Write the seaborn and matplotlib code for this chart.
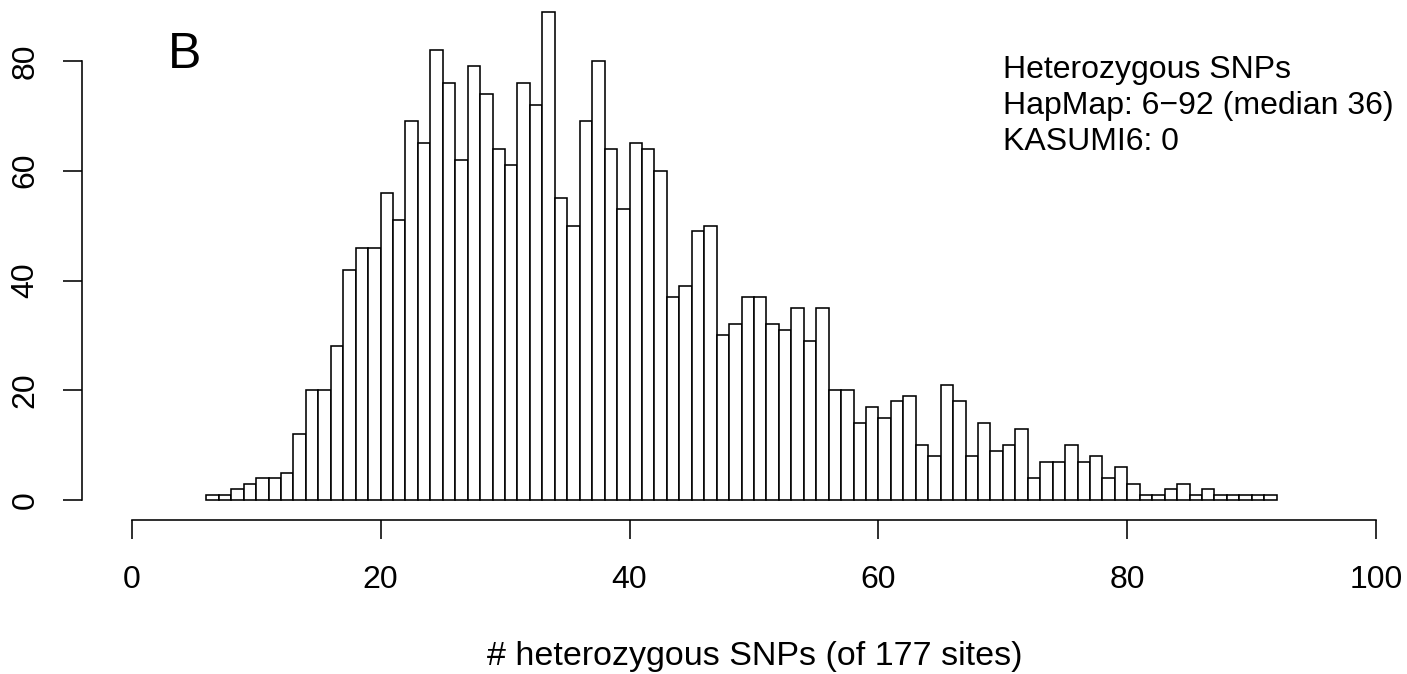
import numpy as np
import pandas as pd
import matplotlib
matplotlib.use("Agg")
import matplotlib.pyplot as plt
import seaborn as sns

# Number of heterozygous SNPs (bin start values, bins of width 1)
het_snps = list(range(6, 92))
counts = [1, 1, 2, 3, 4, 4, 5, 12, 20, 20,
          28, 42, 46, 46, 56, 51, 69, 65, 82, 76,
          62, 79, 74, 64, 61, 76, 72, 89, 55, 50,
          69, 80, 64, 53, 65, 64, 60, 37, 39, 49,
          50, 30, 32, 37, 37, 32, 31, 35, 29, 35,
          20, 20, 14, 17, 15, 18, 19, 10, 8, 21,
          18, 8, 14, 9, 10, 13, 4, 7, 7, 10,
          7, 8, 4, 6, 3, 1, 1, 2, 3, 1,
          2, 1, 1, 1, 1, 1]
x_ticks = [0, 20, 40, 60, 80, 100]
y_ticks = [0, 20, 40, 60, 80]
panel_label = "B"
info_lines = ["Heterozygous SNPs", "HapMap: 6\u221292 (median 36)", "KASUMI6: 0"]
x_label = "# heterozygous SNPs (of 177 sites)"

sns.set_style("white")
plt.rcParams['font.family'] = ['Liberation Sans', 'DejaVu Sans']
plt.rcParams['text.color'] = 'black'

FS = 23
W, H = 1407, 674
fig = plt.figure(figsize=(W / 100, H / 100), dpi=100)

ax_left, ax_bottom_px = 81.7, 519.5
ax = fig.add_axes([ax_left / W, (H - ax_bottom_px) / H, (W - ax_left) / W, ax_bottom_px / H])

df = pd.DataFrame({"snps": [v + 0.5 for v in het_snps], "count": counts})
edges = het_snps + [het_snps[-1] + 1]
sns.histplot(data=df, x="snps", weights="count", bins=edges, ax=ax,
             color="white", edgecolor="black", linewidth=1.15, alpha=1.0)

px_per_x = (1376.2 - 131.7) / 100.0
ax.set_xlim(-(131.7 - ax_left) / px_per_x, (W - 131.7) / px_per_x)
px_per_y = (500 - 61) / 80.0
ax.set_ylim(-(ax_bottom_px - 500) / px_per_y, 500 / px_per_y)

for s in ["top", "right"]:
    ax.spines[s].set_visible(False)
ax.spines["left"].set_bounds(0, 80)
ax.spines["bottom"].set_bounds(0, 100)
for s in ["left", "bottom"]:
    ax.spines[s].set_linewidth(1.15)
    ax.spines[s].set_color("black")

ax.set_xticks(x_ticks)
ax.set_yticks(y_ticks)
ax.set_xticklabels([str(t) for t in x_ticks])
ax.set_yticklabels([str(t) for t in y_ticks], rotation=90, va="center")
ax.tick_params(axis="both", direction="out", length=14, width=1.15, colors="black",
               labelcolor="black", labelsize=FS, left=True, bottom=True)
ax.tick_params(axis="x", pad=19)
ax.tick_params(axis="y", pad=15.5)
ax.set_xlabel("")
ax.set_ylabel("")
ax.grid(False)

def fx(x):
    return x / W

def fy(y):
    return 1 - y / H

fig.text(fx(754.5), fy(665), x_label, fontsize=24.5, ha="center", va="baseline", color="black")
fig.text(fx(168), fy(68), panel_label, fontsize=36, ha="left", va="baseline", color="black")
for i, line in enumerate(info_lines):
    fig.text(fx(1003), fy(78 + 36 * i), line, fontsize=FS, ha="left", va="baseline", color="black")

fig.savefig("out.png", dpi=100, facecolor="white")
